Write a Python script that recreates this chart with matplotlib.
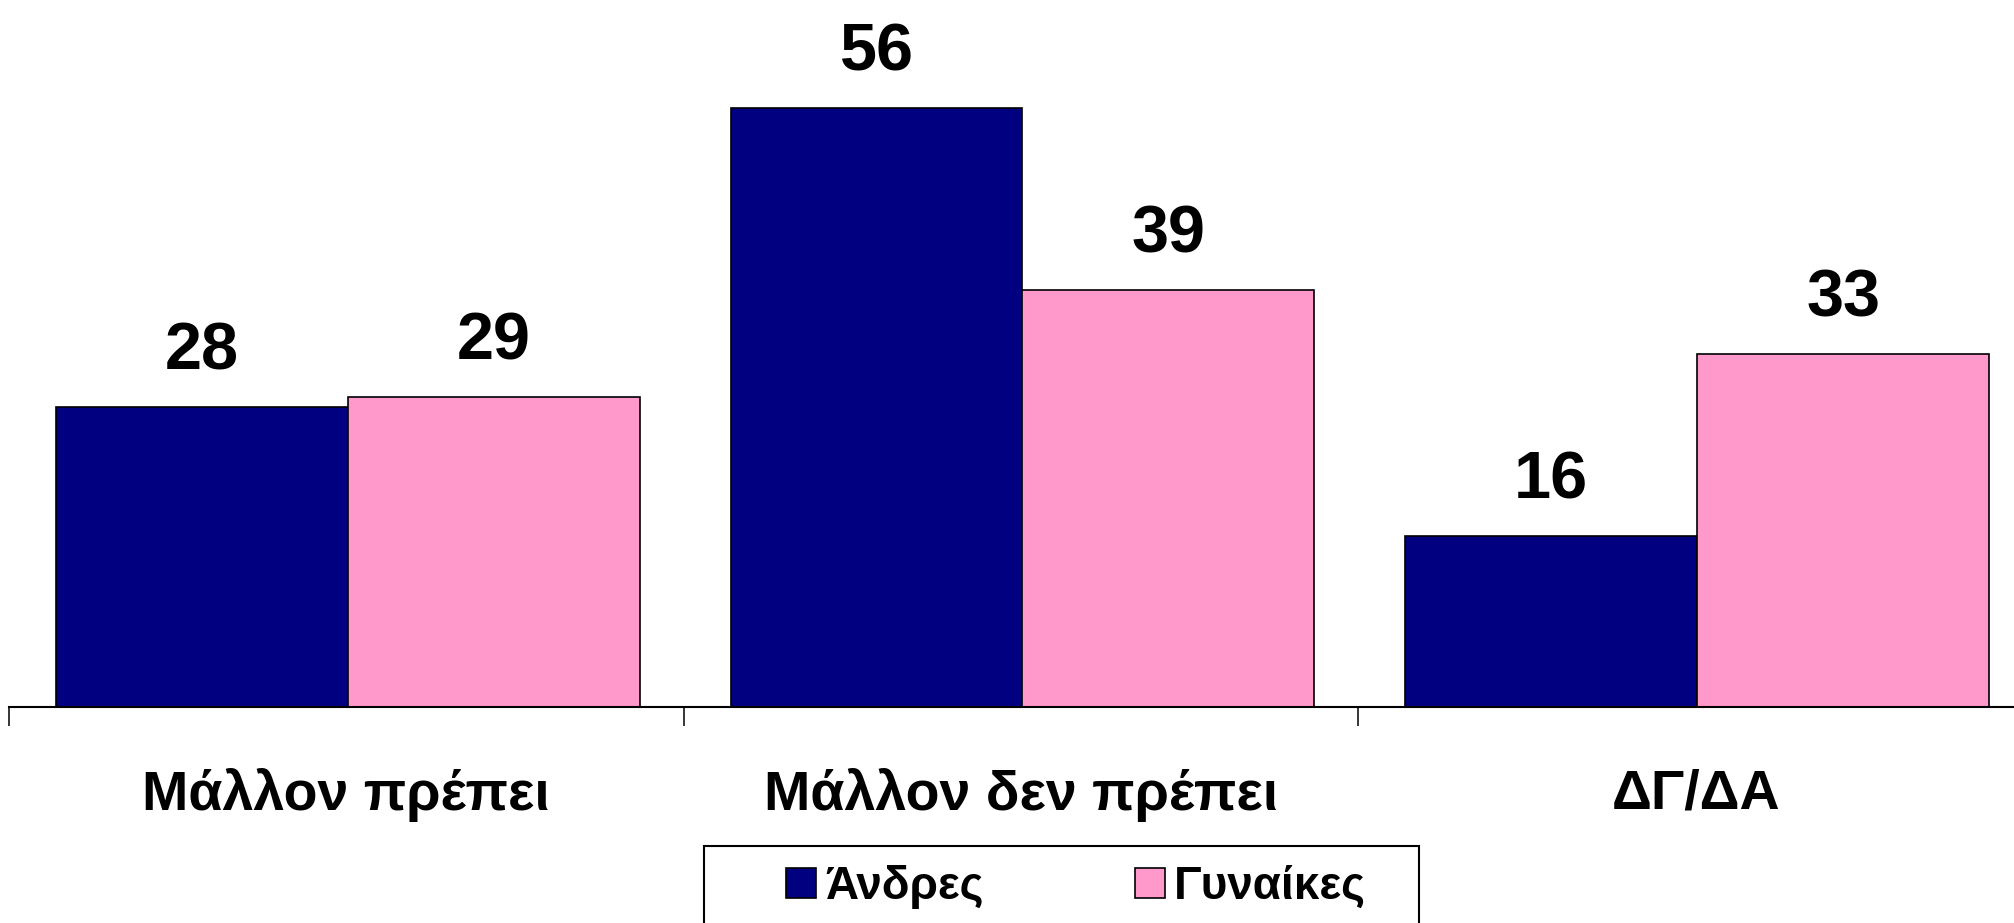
import matplotlib
matplotlib.use('Agg')
import matplotlib.pyplot as plt
from matplotlib.patches import Rectangle
import numpy as np

plt.rcParams['font.family'] = ['Liberation Sans', 'DejaVu Sans']

categories = ['Μάλλον πρέπει', 'Μάλλον δεν πρέπει', 'ΔΓ/ΔΑ']
men = [28, 56, 16]
women = [29, 39, 33]
series_names = ['Άνδρες', 'Γυναίκες']
colors = ['#000080', '#FF99CC']

W, H = 2015, 923
fig = plt.figure(figsize=(W / 100, H / 100), dpi=100)

# axes runs a little past the right edge, like the original slide
x0, x1 = 9, 2033
base = 707
ax = fig.add_axes([x0 / W, (H - base) / H, (x1 - x0) / W, base / H])
ax.set_xlim(-0.5, 2.5)
ax.set_ylim(0, base / 10.7)

x = np.arange(len(categories))
bw = 0.4326
shift = 0.0022
b1 = ax.bar(x - bw / 2 + shift, men, bw, color=colors[0], edgecolor='black', linewidth=1.2,
            label=series_names[0])
b2 = ax.bar(x + bw / 2 + shift, women, bw, color=colors[1], edgecolor='black', linewidth=1.2,
            label=series_names[1])

for bars, vals in ((b1, men), (b2, women)):
    for rect, v in zip(bars, vals):
        ax.annotate(str(v), (rect.get_x() + rect.get_width() / 2, v),
                    xytext=(0, 27), textcoords='offset points',
                    ha='center', va='baseline', fontsize=48, fontweight='bold')

for s in ('top', 'right', 'left'):
    ax.spines[s].set_visible(False)
ax.spines['bottom'].set_linewidth(1.5)
ax.set_yticks([])

ax.set_xticks(x)
ax.set_xticklabels(categories, fontsize=40, fontweight='bold')
ax.tick_params(axis='x', which='major', length=0, pad=44)
ax.set_xticks(np.arange(len(categories) + 1) - 0.5, minor=True)
ax.tick_params(axis='x', which='minor', length=13.7, width=1.1, direction='out')

# legend box, cut by the bottom edge as in the original
fig.patches.append(Rectangle((704 / W, -0.05), (1419 - 704) / W, (H - 846) / H + 0.05,
                             transform=fig.transFigure, facecolor='white',
                             edgecolor='black', linewidth=1.5))
leg = fig.legend(handles=[b1, b2], labels=series_names, ncol=2,
                 loc='center left', bbox_to_anchor=(786 / W, (H - 887) / H),
                 prop={'weight': 'bold', 'size': 33},
                 frameon=False,
                 handlelength=0.65, handleheight=0.65, handletextpad=0.2,
                 columnspacing=3.3, borderpad=0, borderaxespad=0)
for t in leg.get_texts():
    t.set_fontweight('bold')

fig.savefig('out.png', dpi=100)
